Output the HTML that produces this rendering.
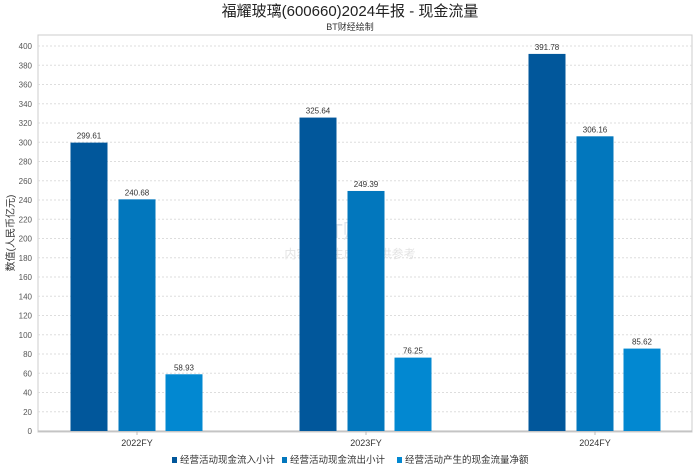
<!DOCTYPE html>
<html><head><meta charset="utf-8"><style>
body{margin:0;background:#fff;}
svg text{font-family:"Liberation Sans","Noto Sans CJK SC",sans-serif;}
</style></head><body>
<svg width="700" height="467" xmlns="http://www.w3.org/2000/svg">
<text x="350" y="16" text-anchor="middle" font-size="15" fill="#222">福耀玻璃(600660)2024年报 - 现金流量</text>
<text x="350" y="30" text-anchor="middle" font-size="9" fill="#333">BT财经绘制</text>
<rect x="38" y="35" width="654" height="397" fill="#fff" stroke="#ccc"/>
<g id="grid"></g>
<text x="350" y="238" text-anchor="middle" font-size="20" fill="#dde3ea" font-family="Liberation Serif">BT财经</text>
<text x="350" y="258" text-anchor="middle" font-size="12" fill="#e3e3e3">内容由AI生成，仅供参考</text>
<g id="bars"></g>
<text transform="translate(14,233) rotate(-90)" text-anchor="middle" font-size="10" fill="#333">数值(人民币亿元)</text>
<g id="legend"></g>
</svg>
<script>
const categories=["2022FY","2023FY","2024FY"];
const seriesNames=["经营活动现金流入小计","经营活动现金流出小计","经营活动产生的现金流量净额"];
const inflow=[299.61,325.64,391.78];
const outflow=[240.68,249.39,306.16];
const net=[58.93,76.25,85.62];
const yTicks=[0,20,40,60,80,100,120,140,160,180,200,220,240,260,280,300,320,340,360,380,400];
const colors=["#01579b","#0277bd","#0288d1"];
const NS="http://www.w3.org/2000/svg";
const y=v=>431-v*(385/400);
const xc=i=>137+i*229;
function mk(t,a,p){const e=document.createElementNS(NS,t);for(const k in a)e.setAttribute(k,a[k]);p.appendChild(e);return e;}
const grid=document.getElementById('grid');
yTicks.forEach(v=>{
  const l=mk('line',{x1:38,x2:692,y1:y(v),y2:y(v),stroke:v===0?'#bbb':'#ddd','stroke-dasharray':v===0?'':'2,2'},grid);
  
  
  const t=mk('text',{x:32,y:y(v)+3,'text-anchor':'end','font-size':8,fill:'#555'},grid);t.textContent=v;
  
  
});
const bars=document.getElementById('bars');
const series=[inflow,outflow,net];
const offs=[-48,0,47];
categories.forEach((c,i)=>{
  series.forEach((s,j)=>{
    const cx=xc(i)+offs[j];
    const r=mk('rect',{x:cx-18.5,y:y(s[i]),width:37,height:431-y(s[i]),fill:colors[j]},bars);
    
    
    const t=mk('text',{x:cx,y:y(s[i])-4,'text-anchor':'middle','font-size':8,fill:'#333'},bars);t.textContent=s[i].toFixed(2);
    
    
  });
  const t=mk('text',{x:xc(i),y:446,'text-anchor':'middle','font-size':9,fill:'#333'},bars);t.textContent=c;
  
  
  mk('line',{x1:xc(i),x2:xc(i),y1:431,y2:435,stroke:'#bbb'},bars);
});
const lg=document.getElementById('legend');
let lx=172;
const widths=[100,105,135];
seriesNames.forEach((n,j)=>{
  const g=mk('g',{},lg);
  
  
  mk('rect',{x:lx,y:457,width:5,height:6,fill:colors[j]},g);
  const t=mk('text',{x:lx+8,y:463,'font-size':9.5,fill:'#333'},g);t.textContent=n;
  lx+=widths[j]+10;
});
</script>
</body></html>
